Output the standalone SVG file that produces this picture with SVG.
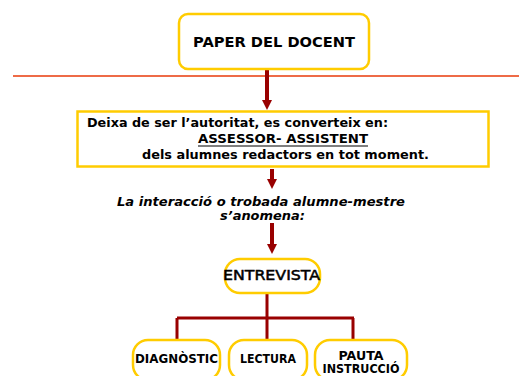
<svg xmlns="http://www.w3.org/2000/svg" width="519" height="376" viewBox="0 0 519 376">
<defs>
<style>
.box{fill:#fff;stroke:#FFCC00;stroke-width:2.5}
.t{font-family:"DejaVu Sans",Verdana,sans-serif;font-weight:bold;fill:#000}
.c{fill:none;stroke:#990000;stroke-width:3}
.ar{fill:none;stroke:#990000;stroke-width:4}
.head{fill:#990000}
</style>
</defs>
<rect width="519" height="376" fill="#fff"/>
<line x1="13" y1="76" x2="519" y2="76" stroke="#E83A0A" stroke-width="1.5"/>
<g id="connectors">
<line class="ar" x1="267" y1="69" x2="267" y2="101"/>
<polygon class="head" points="262,100 272,100 267,110"/>
<line class="ar" x1="272" y1="169" x2="272" y2="180"/>
<polygon class="head" points="267,179 277,179 272,189"/>
<line class="ar" x1="272" y1="223" x2="272" y2="245"/>
<polygon class="head" points="267,244 277,244 272,254"/>
<path class="c" d="M267,293 V318 M177,318 H354 M177,318 V342 M267,318 V341 M353,318 V341"/>
</g>
<g id="paper">
<rect class="box" x="179" y="14" width="190" height="55" rx="9"/>
<text class="t" x="274" y="47" font-size="14.5" text-anchor="middle" textLength="162" lengthAdjust="spacingAndGlyphs">PAPER DEL DOCENT</text>
</g>
<g id="deixa">
<rect class="box" x="77.5" y="111.5" width="411" height="55" stroke-width="3"/>
<text class="t" x="87" y="127" font-size="11.5" textLength="301" lengthAdjust="spacingAndGlyphs">Deixa de ser l’autoritat, es converteix en:</text>
<text class="t" x="198" y="143" font-size="11.5" textLength="170" lengthAdjust="spacingAndGlyphs">ASSESSOR- ASSISTENT</text>
<line x1="198" y1="146" x2="368" y2="146" stroke="#000" stroke-width="1.2"/>
<text class="t" x="142" y="159" font-size="11.5" textLength="287" lengthAdjust="spacingAndGlyphs">dels alumnes redactors en tot moment.</text>
</g>
<g id="interaccio">
<text class="t" x="117" y="206" font-size="11.5" font-style="italic" textLength="288" lengthAdjust="spacingAndGlyphs">La interacció o trobada  alumne-mestre</text>
<text class="t" x="220" y="220" font-size="11.5" font-style="italic" textLength="85" lengthAdjust="spacingAndGlyphs">s’anomena:</text>
</g>
<g id="entrevista">
<rect class="box" x="225" y="259" width="95" height="34" rx="15"/>
<text x="271.5" y="280" font-family="'Comic Sans MS','DejaVu Sans',sans-serif" font-size="14" text-anchor="middle" textLength="97" lengthAdjust="spacingAndGlyphs" fill="#000" stroke="#000" stroke-width="0.5">ENTREVISTA</text>
</g>
<g id="diagnostic">
<rect class="box" x="133" y="340" width="87" height="40" rx="15"/>
<text class="t" x="176.5" y="363" font-size="11.5" text-anchor="middle" textLength="83" lengthAdjust="spacingAndGlyphs">DIAGNÒSTIC</text>
</g>
<g id="lectura">
<rect class="box" x="229" y="340" width="78" height="40" rx="15"/>
<text class="t" x="268" y="363" font-size="11.5" text-anchor="middle" textLength="56" lengthAdjust="spacingAndGlyphs">LECTURA</text>
</g>
<g id="pauta">
<rect class="box" x="315" y="340" width="92" height="40" rx="15"/>
<text class="t" x="361" y="360" font-size="11.5" text-anchor="middle" textLength="45" lengthAdjust="spacingAndGlyphs">PAUTA</text>
<text class="t" x="361" y="373" font-size="11.5" text-anchor="middle" textLength="77" lengthAdjust="spacingAndGlyphs">INSTRUCCIÓ</text>
</g>
</svg>
